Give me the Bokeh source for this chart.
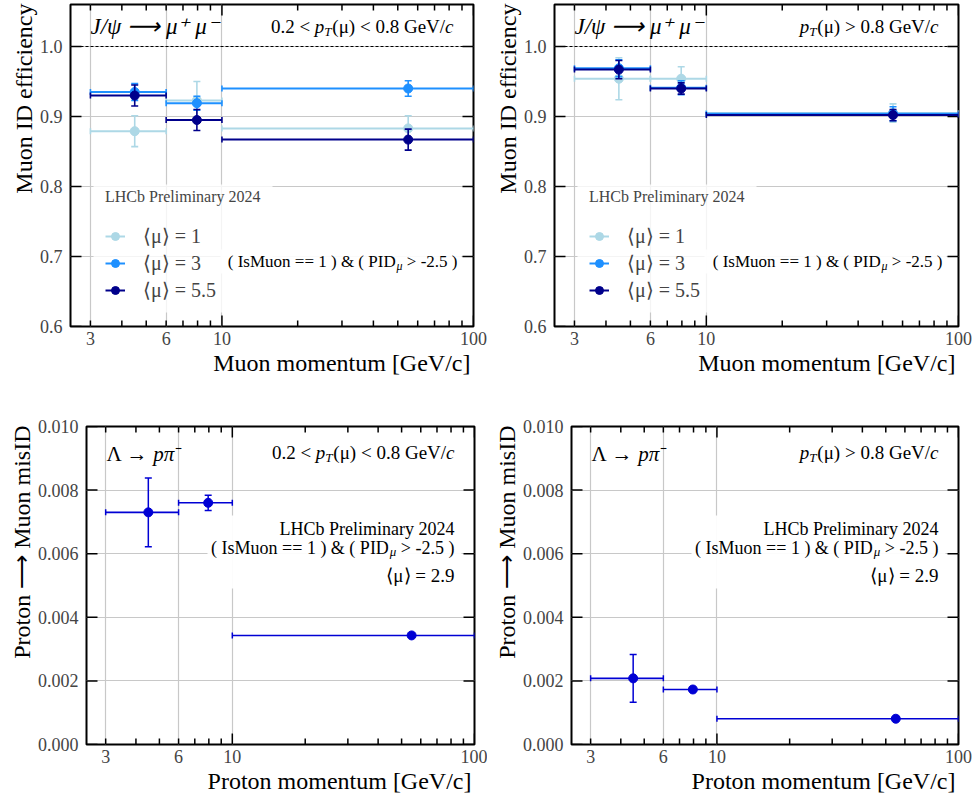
import numpy as np
from bokeh.plotting import figure
from bokeh.layouts import column, row
from bokeh.models import (LinearAxis, FixedTicker, Grid, Span, Label, Legend, LegendItem,
                          BoxAnnotation, ColumnDataSource, PrintfTickFormatter, Title)
from bokeh.embed import file_html
from bokeh.resources import INLINE

# ---------------------------------------------------------------- data
# momentum bins [GeV/c] and the mean momentum of each bin
bin_lo = [3, 6, 10]
bin_hi = [6, 10, 100]
p_mean = [4.5, 7.95, 55.0]

# J/psi -> mu+ mu-: muon ID efficiency, 0.2 < pT(mu) < 0.8 GeV/c
eff_low_mu1 = [0.879, 0.923, 0.883]
eff_low_mu1_err = [0.022, 0.027, 0.018]
eff_low_mu3 = [0.935, 0.919, 0.940]
eff_low_mu3_err = [0.012, 0.010, 0.011]
eff_low_mu55 = [0.930, 0.895, 0.867]
eff_low_mu55_err = [0.015, 0.015, 0.015]

# J/psi -> mu+ mu-: muon ID efficiency, pT(mu) > 0.8 GeV/c
eff_high_mu1 = [0.954, 0.954, 0.905]
eff_high_mu1_err = [0.030, 0.017, 0.013]
eff_high_mu3 = [0.969, 0.941, 0.904]
eff_high_mu3_err = [0.012, 0.010, 0.010]
eff_high_mu55 = [0.967, 0.940, 0.902]
eff_high_mu55_err = [0.013, 0.008, 0.008]

# Lambda -> p pi-: proton -> muon misID at <mu> = 2.9
misid_low = [0.00730, 0.00760, 0.00343]
misid_low_err = [0.00108, 0.00024, 0.00004]
misid_high = [0.00208, 0.00173, 0.00081]
misid_high_err = [0.00075, 0.00004, 0.00002]

pileup_labels = ["⟨μ⟩ = 1", "⟨μ⟩ = 3", "⟨μ⟩ = 5.5"]
pileup_colors = ["#add8e6", "#1e90ff", "#00008b"]
misid_color = "#0000d4"

x_range = (2.5, 100)
x_major = [10, 100]
x_minor = [3, 4, 5, 6, 7, 8, 9, 20, 30, 40, 50, 60, 70, 80, 90]
x_labelled = [3, 6, 10, 100]
eff_ticks = [0.6, 0.7, 0.8, 0.9, 1.0]
misid_ticks = [0.0, 0.002, 0.004, 0.006, 0.008, 0.010]

SERIF = "Liberation Serif"
GRID = "#c8c8c8"
MAJOR_LEN, MINOR_LEN, Y_LEN = 11, 6, 11

# approximate advance widths (1/1000 em) of the serif face, used to butt
# differently styled pieces of one label against each other
_REG = {" ": 250, "(": 333, ")": 333, ".": 250, "<": 564, ">": 564, "=": 564,
        "-": 333, "&": 778, "/": 278, "G": 722, "e": 444, "V": 722, "c": 444,
        "I": 333, "s": 389, "M": 889, "u": 500, "o": 500, "n": 500, "P": 556,
        "D": 722, "μ": 576, "Λ": 722, "→": 1000, "⁻": 380, "⟨": 390, "⟩": 390}
_ITA = {"p": 500, "T": 556, "c": 444, "μ": 576, "π": 550}


def text_width(s, size, italic=False):
    table = _ITA if italic else _REG
    return sum(table.get(ch, _REG.get(ch, 500)) for ch in s) * size / 1000.0


def _label(p, x, y, text, size, italic, align):
    p.add_layout(Label(x=x, y=y, x_units="screen", y_units="screen", text=text,
                       text_font=SERIF, text_font_size=f"{size}px",
                       text_font_style="italic" if italic else "normal",
                       text_align=align, text_baseline="alphabetic",
                       text_color="black"))


def rich_text(p, pieces, x, y, align="left"):
    """pieces: (text, size, italic, dy); x, y in frame pixels."""
    if align == "left":
        cur = x
        for t, s, it, dy in pieces:
            lead = len(t) - len(t.lstrip())
            if t.strip():
                _label(p, cur + text_width(t[:lead], s, it), y + dy, t.strip(), s, it, "left")
            cur += text_width(t, s, it)
    else:
        cur = x
        for t, s, it, dy in reversed(pieces):
            trail = len(t) - len(t.rstrip())
            if t.strip():
                _label(p, cur - text_width(t[len(t) - trail:], s, it), y + dy,
                       t.strip(), s, it, "right")
            cur -= text_width(t, s, it)


def add_ticks(p, fw, fh, y_range, y_ticks):
    """Inward ticks on all four sides of the frame."""
    ymin, ymax = y_range
    dy = (ymax - ymin) / fh
    dlog = (np.log10(x_range[1]) - np.log10(x_range[0])) / fw
    x0, y0, x1, y1 = [], [], [], []
    for ticks, n in ((x_major, MAJOR_LEN), (x_minor, MINOR_LEN)):
        for v in ticks:
            x0 += [v, v]
            x1 += [v, v]
            y0 += [ymin, ymax]
            y1 += [ymin + n * dy, ymax - n * dy]
    for v in y_ticks:
        x0 += [x_range[0], x_range[1]]
        x1 += [x_range[0] * 10 ** (Y_LEN * dlog), x_range[1] / 10 ** (Y_LEN * dlog)]
        y0 += [v, v]
        y1 += [v, v]
    p.segment(x0=x0, y0=y0, x1=x1, y1=y1, line_color="black", line_width=1.5)


def make_panel(fw, fh, bl, br, bt, bb, y_range, y_ticks, y_fmt, xlabel, ylabel):
    p = figure(frame_width=fw, frame_height=fh, x_axis_type="log",
               x_range=x_range, y_range=y_range,
               x_axis_location=None, y_axis_location=None,
               toolbar_location=None, output_backend="svg",
               min_border_left=bl, min_border_right=br,
               min_border_top=bt, min_border_bottom=bb)
    p.center = [r for r in p.center if not isinstance(r, Grid)]
    p.outline_line_color = "black"
    p.outline_line_width = 2
    p.background_fill_color = "white"
    p.border_fill_color = "white"

    p.add_layout(Grid(dimension=0, ticker=FixedTicker(ticks=x_labelled),
                      grid_line_color=GRID, grid_line_width=1.2))
    p.add_layout(Grid(dimension=1, ticker=FixedTicker(ticks=y_ticks),
                      grid_line_color=GRID, grid_line_width=1.2))

    p.add_layout(LinearAxis(ticker=FixedTicker(ticks=x_labelled, minor_ticks=[]),
                            major_label_overrides={v: str(v) for v in x_labelled},
                            major_tick_in=0, major_tick_out=0,
                            minor_tick_in=0, minor_tick_out=0,
                            major_tick_line_color=None, minor_tick_line_color=None,
                            axis_line_color=None, major_label_standoff=5,
                            major_label_text_font=SERIF,
                            major_label_text_font_size="18px"), "below")
    p.add_layout(LinearAxis(ticker=FixedTicker(ticks=y_ticks, minor_ticks=[]),
                            formatter=PrintfTickFormatter(format=y_fmt),
                            major_tick_in=0, major_tick_out=0,
                            minor_tick_in=0, minor_tick_out=0,
                            major_tick_line_color=None, minor_tick_line_color=None,
                            axis_line_color=None, major_label_standoff=8,
                            major_label_text_font=SERIF,
                            major_label_text_font_size="18px"), "left")

    # axis titles, flush with the right / top end of the frame
    p.add_layout(Title(text=xlabel, align="right", offset=3, standoff=0,
                       text_font=SERIF, text_font_size="24px",
                       text_font_style="normal", text_color="black"), "below")
    p.add_layout(Title(text=ylabel, align="right", offset=-1, standoff=0,
                       text_font=SERIF, text_font_size="24px",
                       text_font_style="normal", text_color="black"), "left")

    add_ticks(p, fw, fh, y_range, y_ticks)
    return p


def draw_series(p, y, err, color, hwidth, vwidth, size):
    y = np.asarray(y, dtype=float)
    err = np.asarray(err, dtype=float)
    src = ColumnDataSource(dict(x=p_mean, lo=bin_lo, hi=bin_hi, y=y,
                                top=y + err, bot=y - err))
    h = p.segment(x0="lo", y0="y", x1="hi", y1="y", source=src,
                  line_color=color, line_width=hwidth)
    p.segment(x0="x", y0="bot", x1="x", y1="top", source=src,
              line_color=color, line_width=vwidth)
    for yc in ("top", "bot"):
        p.scatter(x="x", y=yc, source=src, marker="dash", size=7,
                  line_color=color, line_width=vwidth)
    for xc in ("lo", "hi"):
        p.scatter(x=xc, y="y", source=src, marker="dash", angle=np.pi / 2, size=6,
                  line_color=color, line_width=vwidth)
    pt = p.scatter(x="x", y="y", source=src, marker="circle", size=size,
                   fill_color=color, line_color=color)
    return h, pt


def pid_pieces(size):
    return [("( IsMuon == 1 ) & ( PID", size, False, 0),
            ("μ", round(size * 0.7), True, -4),
            (" > -2.5 )", size, False, 0)]


def white_box(p, left, right, bottom, top, alpha):
    p.add_layout(BoxAnnotation(left=left, right=right, bottom=bottom, top=top,
                               left_units="screen", right_units="screen",
                               bottom_units="screen", top_units="screen",
                               fill_color="white", fill_alpha=alpha, line_color=None))


def efficiency_panel(fw, bl, br, series, errors, pt_pieces):
    fh = 322
    p = make_panel(fw, fh, bl, br, 4, 74, (0.6, 1.06), eff_ticks, "%.1f",
                   "Muon momentum [GeV/c]", "Muon ID efficiency")
    p.add_layout(Span(location=1.0, dimension="width", line_color="black",
                      line_width=1, line_dash="3 2"))
    items = []
    for vals, errs, color, lab in zip(series, errors, pileup_colors, pileup_labels):
        h, pt = draw_series(p, vals, errs, color, 2.0, 1.6, 9)
        vbar = p.scatter(x=[], y=[], marker="dash", angle=np.pi / 2, size=16,
                         line_color=color, line_width=1.6)
        items.append(LegendItem(label=lab, renderers=[h, vbar, pt]))
    # legend frame and the backing of the selection text
    white_box(p, 23, 202, 14, 142, 0.8)
    white_box(p, 150, fw - 12, 53, 77, 0.9)
    legend = Legend(items=items, location=(35, 24), title="LHCb Preliminary 2024",
                    title_text_font=SERIF, title_text_font_size="16px",
                    title_text_font_style="normal", title_standoff=18,
                    label_text_font=SERIF, label_text_font_size="20px",
                    background_fill_alpha=0, border_line_color=None,
                    padding=10, spacing=3,
                    glyph_width=20, glyph_height=20, label_height=20,
                    label_standoff=18, margin=0)
    p.add_layout(legend)
    rich_text(p, pid_pieces(17), fw - 16, 65, align="right")
    rich_text(p, [("J/ψ ⟶ μ⁺ μ⁻", 23, True, 0)], 20, fh - 22)
    rich_text(p, pt_pieces, fw - 20, fh - 22, align="right")
    return p


def misid_panel(fw, bl, br, vals, errs, pt_pieces):
    fh = 318
    p = make_panel(fw, fh, bl, br, 26, 54, (0.0, 0.010), misid_ticks, "%.3f",
                   "Proton momentum [GeV/c]", "Proton ⟶ Muon misID")
    draw_series(p, vals, errs, misid_color, 1.6, 1.5, 9)
    white_box(p, fw - 267, fw - 13, 156, 229, 0.95)
    rich_text(p, [("LHCb Preliminary 2024", 18, False, 0)], fw - 20, 216, align="right")
    rich_text(p, pid_pieces(18), fw - 20, 197, align="right")
    rich_text(p, [("⟨μ⟩ = 2.9", 19, False, 0)], fw - 20, 169, align="right")
    rich_text(p, [("Λ → ", 21, False, 0), ("pπ", 21, True, 0), ("⁻", 21, False, 0)],
              20, fh - 27)
    rich_text(p, pt_pieces, fw - 20, fh - 26, align="right")
    return p


pt_low = [("0.2 < ", 19, False, 0), ("p", 19, True, 0), ("T", 13, True, -5),
          ("(μ) < 0.8 GeV/", 19, False, 0), ("c", 19, True, 0)]
pt_high = [("p", 19, True, 0), ("T", 13, True, -5),
           ("(μ) > 0.8 GeV/", 19, False, 0), ("c", 19, True, 0)]

p1 = efficiency_panel(403, 70, 14,
                      [eff_low_mu1, eff_low_mu3, eff_low_mu55],
                      [eff_low_mu1_err, eff_low_mu3_err, eff_low_mu55_err], pt_low)
p2 = efficiency_panel(404, 67, 17,
                      [eff_high_mu1, eff_high_mu3, eff_high_mu55],
                      [eff_high_mu1_err, eff_high_mu3_err, eff_high_mu55_err], pt_high)
p3 = misid_panel(388, 86, 13, misid_low, misid_low_err, pt_low)
p4 = misid_panel(387, 84, 17, misid_high, misid_high_err, pt_high)

layout = column(row(p1, p2), row(p3, p4))
open("out.html", "w").write(file_html(layout, INLINE))
